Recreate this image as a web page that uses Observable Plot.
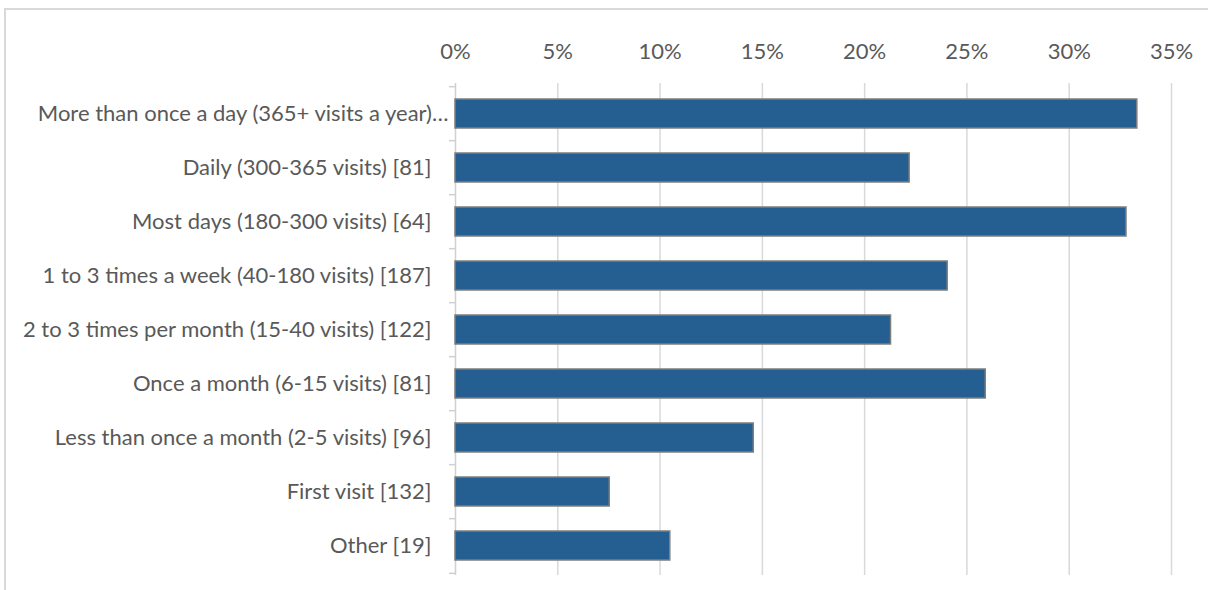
<!DOCTYPE html>
<html>
<head>
<meta charset="utf-8">
<script src="https://cdn.jsdelivr.net/npm/d3@7"></script>
<script src="https://cdn.jsdelivr.net/npm/@observablehq/plot@0.6"></script>
<style>
  html, body { margin: 0; padding: 0; background: #fff; }
  #wrap { position: relative; width: 1208px; height: 590px; overflow: hidden; }
  #border { position: absolute; left: 4px; top: 8px; width: 1210px; height: 600px;
            border: 2px solid #d9d9d9; box-sizing: border-box; pointer-events: none; }
</style>
</head>
<body>
<div id="wrap"><div id="border"></div></div>
<script>
const categories = [
  "More than once a day (365+ visits a year)…",
  "Daily (300-365 visits) [81]",
  "Most days (180-300 visits) [64]",
  "1 to 3 times a week (40-180 visits) [187]",
  "2 to 3 times per month (15-40 visits) [122]",
  "Once a month (6-15 visits) [81]",
  "Less than once a month (2-5 visits) [96]",
  "First visit [132]",
  "Other [19]"
];
const shares = [33.33, 22.2, 32.8, 24.06, 21.29, 25.92, 14.58, 7.54, 10.5];
const xTicks = [0, 5, 10, 15, 20, 25, 30, 35];

const data = categories.map((c, i) => ({category: c, share: shares[i]}));

const W = 1208, H = 590, mTop = 83, mBottom = 15, mLeft = 455, mRight = 37;
const step = (H - mTop - mBottom) / categories.length;
const font = "Lato, 'Open Sans', sans-serif";
const textColor = "#595959";
const fs = 22;

const chart = Plot.plot({
  width: W,
  height: H,
  marginTop: mTop,
  marginBottom: mBottom,
  marginLeft: mLeft,
  marginRight: mRight,
  style: {fontFamily: font, fontSize: fs + "px", color: textColor, background: "transparent"},
  x: {domain: [0, 35], axis: null},
  y: {domain: categories, paddingInner: 0.47, paddingOuter: 0.235, axis: null},
  marks: [
    Plot.ruleX(xTicks.filter(d => d > 0), {stroke: "#d9d9d9", strokeWidth: 1.5}),
    Plot.ruleX([0], {stroke: "#d0d0d0", strokeWidth: 1.5}),
    Plot.axisX({anchor: "top", ticks: xTicks, tickSize: 0, tickPadding: 25,
      tickFormat: d => d + "%", fill: textColor, fontSize: fs, label: null}),
    Plot.axisY({anchor: "left", tickSize: 6, tickFormat: () => "", stroke: "#d0d0d0",
      strokeWidth: 1.5, dy: -step / 2, label: null}),
    Plot.axisY({anchor: "left", ticks: [categories[categories.length - 1]], tickSize: 6,
      tickFormat: () => "", stroke: "#d0d0d0", strokeWidth: 1.5, dy: step / 2, label: null}),
    Plot.barX(data, {x: "share", y: "category", fill: "#255e91", stroke: "#7f7f7f", strokeWidth: 1.5}),
    Plot.text(data.slice(1), {y: "category", text: "category", frameAnchor: "left",
      textAnchor: "end", dx: -24, fill: textColor, fontSize: fs}),
    Plot.text(data.slice(0, 1), {y: "category", text: "category", frameAnchor: "left",
      textAnchor: "end", dx: -7, fill: textColor, fontSize: fs})
  ]
});
document.getElementById("wrap").prepend(chart);
</script>
</body>
</html>
